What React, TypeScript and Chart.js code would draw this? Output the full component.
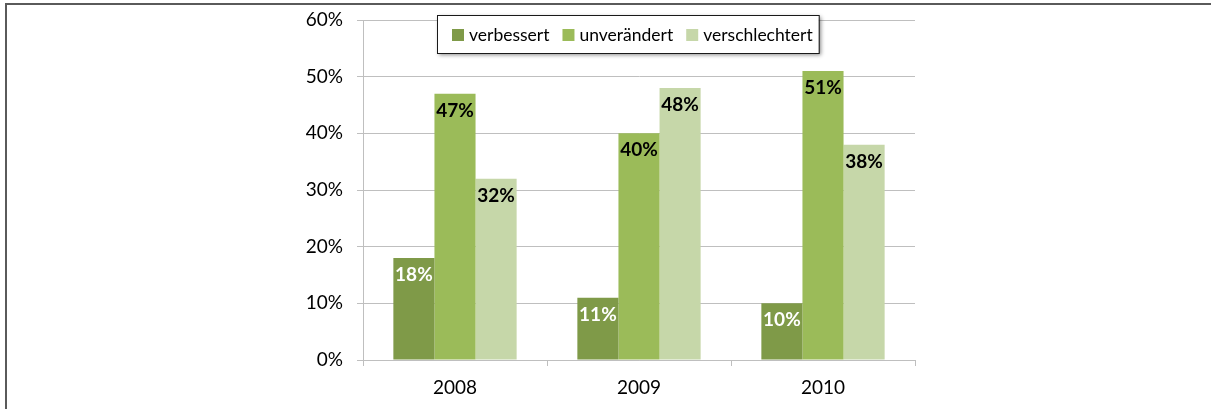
import React, { useEffect, useRef } from "react";
import { Chart, registerables } from "chart.js";

Chart.register(...registerables);

const categories = ["2008", "2009", "2010"];
const seriesNames = ["verbessert", "unverändert", "verschlechtert"];
const verbessert = [18, 11, 10];
const unveraendert = [47, 40, 51];
const verschlechtert = [32, 48, 38];
const yTicks = [0, 10, 20, 30, 40, 50, 60];

const colors = ["#7f9a48", "#9bbb59", "#c6d7a9"];
const labelColors = ["#ffffff", "#000000", "#000000"];
const FONT = "Lato, 'Open Sans', sans-serif";

const dataLabelPlugin = {
  id: "dataLabels",
  afterDatasetsDraw(chart: any) {
    const ctx = chart.ctx;
    ctx.save();
    ctx.font = `bold 19px ${FONT}`;
    ctx.textAlign = "center";
    ctx.textBaseline = "middle";
    chart.data.datasets.forEach((ds: any, i: number) => {
      const meta = chart.getDatasetMeta(i);
      meta.data.forEach((bar: any, j: number) => {
        ctx.fillStyle = labelColors[i];
        ctx.fillText(`${ds.data[j]}%`, bar.x, bar.y + 17);
      });
    });
    ctx.restore();
  },
};

const legendPlugin = {
  id: "boxLegend",
  afterDraw(chart: any) {
    const ctx = chart.ctx;
    const left = 437;
    const top = 15;
    const h = 38;
    ctx.save();
    ctx.font = `17.5px ${FONT}`;
    const sw = 12;
    const gapSwText = 5;
    const gapItems = 13;
    let width = 15;
    const widths = seriesNames.map((n) => ctx.measureText(n).width);
    widths.forEach((w, i) => {
      width += sw + gapSwText + w + (i < widths.length - 1 ? gapItems : 0);
    });
    width += 6;
    ctx.shadowColor = "rgba(0,0,0,0.45)";
    ctx.shadowBlur = 4;
    ctx.shadowOffsetX = 2;
    ctx.shadowOffsetY = 2;
    ctx.fillStyle = "#ffffff";
    ctx.fillRect(left, top, width, h);
    ctx.shadowColor = "transparent";
    ctx.strokeStyle = "#1a1a1a";
    ctx.lineWidth = 1;
    ctx.strokeRect(left + 0.5, top + 0.5, width, h);
    let x = left + 15;
    const cy = top + h / 2 + 1;
    ctx.textBaseline = "middle";
    ctx.textAlign = "left";
    seriesNames.forEach((n, i) => {
      ctx.fillStyle = colors[i];
      ctx.fillRect(x, cy - 6, sw, sw);
      x += sw + gapSwText;
      ctx.fillStyle = "#000000";
      ctx.fillText(n, x, cy);
      x += widths[i] + gapItems;
    });
    ctx.restore();
  },
};

export default function App() {
  const ref = useRef<HTMLCanvasElement>(null);
  useEffect(() => {
    document.body.style.margin = "0";
    if (!ref.current) return;
    const chart = new Chart(ref.current, {
      type: "bar",
      data: {
        labels: categories,
        datasets: [verbessert, unveraendert, verschlechtert].map((d, i) => ({
          label: seriesNames[i],
          data: d,
          backgroundColor: colors[i],
          borderWidth: 0,
          categoryPercentage: 0.67,
          barPercentage: 1,
        })),
      },
      options: {
        responsive: false,
        animation: false,
        events: [],
        layout: { padding: { left: 0, right: 296, top: 20, bottom: 0 } },
        plugins: { legend: { display: false }, tooltip: { enabled: false } },
        scales: {
          x: {
            grid: {
              drawOnChartArea: false,
              drawTicks: true,
              tickLength: 6,
              color: "#bfbfbf",
              offset: true,
            },
            border: { color: "#bfbfbf", width: 1 },
            ticks: {
              color: "#000000",
              font: { family: FONT, size: 19 },
              padding: 10,
            },
            afterFit(scale: any) {
              scale.height = 49;
              scale.paddingLeft = 0;
              scale.paddingRight = 0;
            },
          },
          y: {
            min: 0,
            max: 60,
            afterBuildTicks(scale: any) {
              scale.ticks = yTicks.map((v) => ({ value: v }));
            },
            grid: { color: "#bfbfbf", tickLength: 6 },
            border: { color: "#bfbfbf", width: 1 },
            ticks: {
              color: "#000000",
              font: { family: FONT, size: 19 },
              padding: 14,
              callback: (v: any) => `${v}%`,
            },
            afterFit(scale: any) {
              scale.width = 363;
              scale.paddingTop = 0;
              scale.paddingBottom = 0;
            },
          },
        },
      },
      plugins: [dataLabelPlugin, legendPlugin],
    });
    return () => chart.destroy();
  }, []);
  return (
    <div style={{ position: "relative", width: 1211, height: 409, overflow: "hidden" }}>
      <canvas ref={ref} width={1211} height={409} style={{ display: "block" }} />
      <div
        style={{
          position: "absolute",
          left: 5,
          top: 3,
          right: -10,
          bottom: -10,
          borderTop: "2px solid #5a5a5a",
          borderLeft: "2px solid #5a5a5a",
          pointerEvents: "none",
        }}
      />
    </div>
  );
}
